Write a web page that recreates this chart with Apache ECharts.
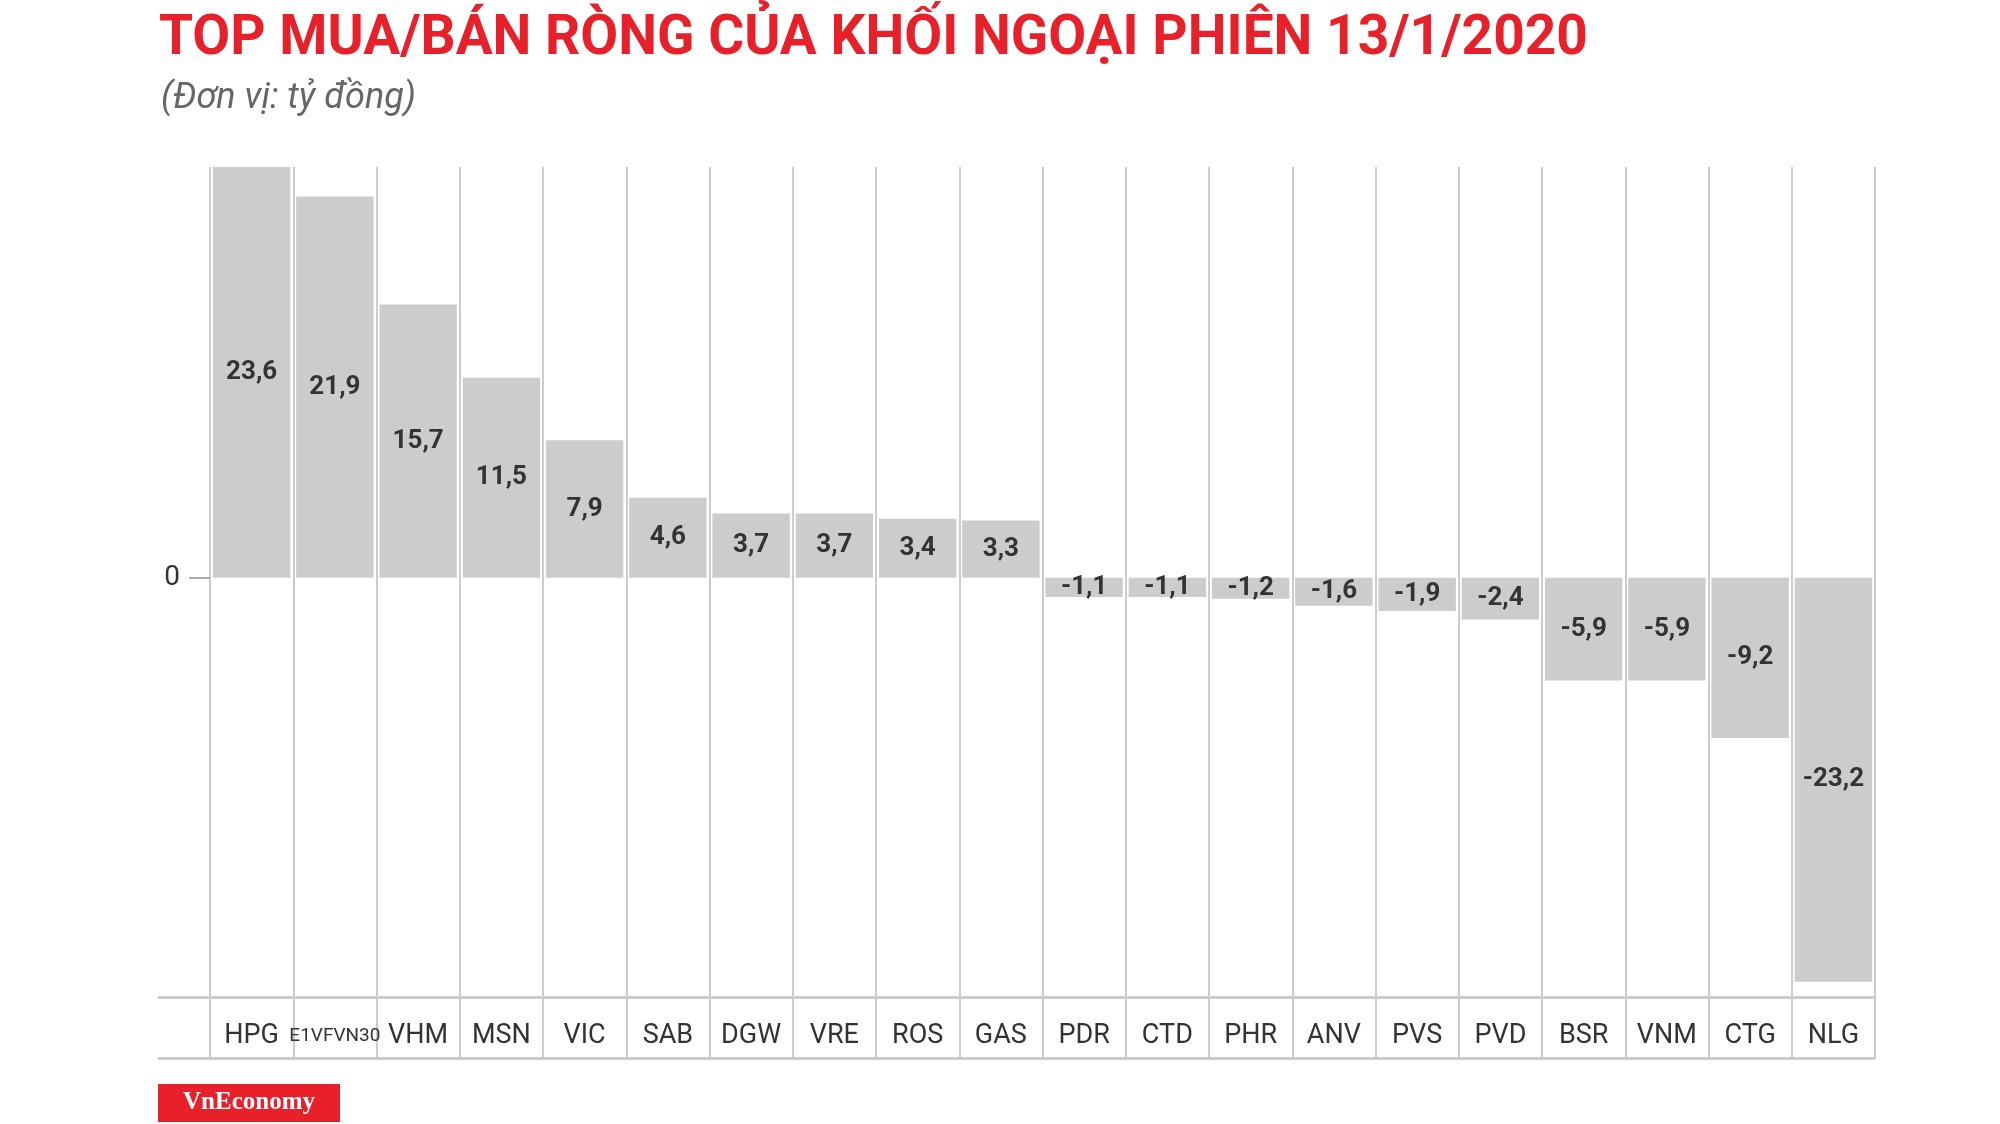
<!DOCTYPE html>
<html>
<head>
<meta charset="utf-8">
<script src="https://cdn.jsdelivr.net/npm/echarts@6/dist/echarts.min.js"></script>
<style>
html, body { margin: 0; padding: 0; background: #fff; }
#chart { width: 2000px; height: 1124px; }
</style>
</head>
<body>
<div id="chart"></div>
<script>
// mã cổ phiếu
var categories = ['HPG', 'E1VFVN30', 'VHM', 'MSN', 'VIC', 'SAB', 'DGW', 'VRE', 'ROS', 'GAS',
    'PDR', 'CTD', 'PHR', 'ANV', 'PVS', 'PVD', 'BSR', 'VNM', 'CTG', 'NLG']
// giá trị mua/bán ròng (tỷ đồng)
var values = [23.6, 21.9, 15.7, 11.5, 7.9, 4.6, 3.7, 3.7, 3.4, 3.3,
    -1.1, -1.1, -1.2, -1.6, -1.9, -2.4, -5.9, -5.9, -9.2, -23.2]

var font = 'Roboto, "Noto Sans", sans-serif'

var option = {
    backgroundColor: '#fff',
    animation: false,
    title: [{
        text: 'TOP MUA/BÁN RÒNG CỦA KHỐI NGOẠI PHIÊN 13/1/2020',
        left: 154,
        top: 8,
        textStyle: { color: '#e8202a', fontSize: 55, fontWeight: 'bold', fontFamily: font }
    }, {
        text: '(Đơn vị: tỷ đồng)',
        left: 156,
        top: 76,
        textStyle: { color: '#666', fontSize: 36, fontStyle: 'italic', fontWeight: 'normal', fontFamily: font }
    }],
    grid: { left: 210, right: 125, top: 167, bottom: 65 },
    xAxis: {
        type: 'category',
        data: categories,
        axisLine: { show: false },
        axisTick: { show: false },
        splitLine: { show: true, interval: 0, lineStyle: { color: '#cccccc', width: 2 } },
        axisLabel: {
            interval: 0,
            margin: -40,
            formatter: function(v) {
                return v === 'E1VFVN30' ? '{s|' + v + '}' : '{n|' + v + '}'
            },
            rich: {
                n: { fontSize: 27, color: '#333', fontFamily: font, lineHeight: 34, verticalAlign: 'middle' },
                s: { fontSize: 19, color: '#333', fontFamily: font, lineHeight: 34, verticalAlign: 'middle' }
            }
        }
    },
    yAxis: {
        type: 'value',
        min: -27.64,
        max: 23.6,
        splitLine: { show: false },
        axisLine: { show: false },
        axisTick: { show: true, customValues: [0], length: 21, lineStyle: { color: '#aaa', width: 2 } },
        axisLabel: {
            customValues: [0],
            color: '#333', fontSize: 28, fontFamily: font, margin: 30
        }
    },
    series: [{
        type: 'bar',
        data: values,
        barCategoryGap: '7%',
        itemStyle: { color: '#cccccc' },
        label: {
            show: true,
            position: 'inside',
            color: '#333',
            fontSize: 26,
            fontWeight: 'bold',
            fontFamily: font,
            formatter: function(p) { return String(p.value).replace('.', ',') }
        }
    }],
    graphic: [
        { type: 'rect', shape: { x: 158, y: 996, width: 1717, height: 3 }, style: { fill: '#cccccc' } },
        { type: 'rect', shape: { x: 158, y: 1057, width: 1717, height: 3 }, style: { fill: '#cccccc' } },
        { type: 'rect', shape: { x: 158, y: 1084, width: 182, height: 38 }, style: { fill: '#e8202a' } },
        {
            type: 'text', x: 249, y: 1103,
            style: {
                text: 'VnEconomy', fill: '#fff', fontSize: 25, fontWeight: 'bold',
                fontFamily: '"Liberation Serif", "DejaVu Serif", serif', align: 'center', verticalAlign: 'middle'
            }
        }
    ]
}
echarts.init(document.getElementById('chart')).setOption(option)
</script>
</body>
</html>
